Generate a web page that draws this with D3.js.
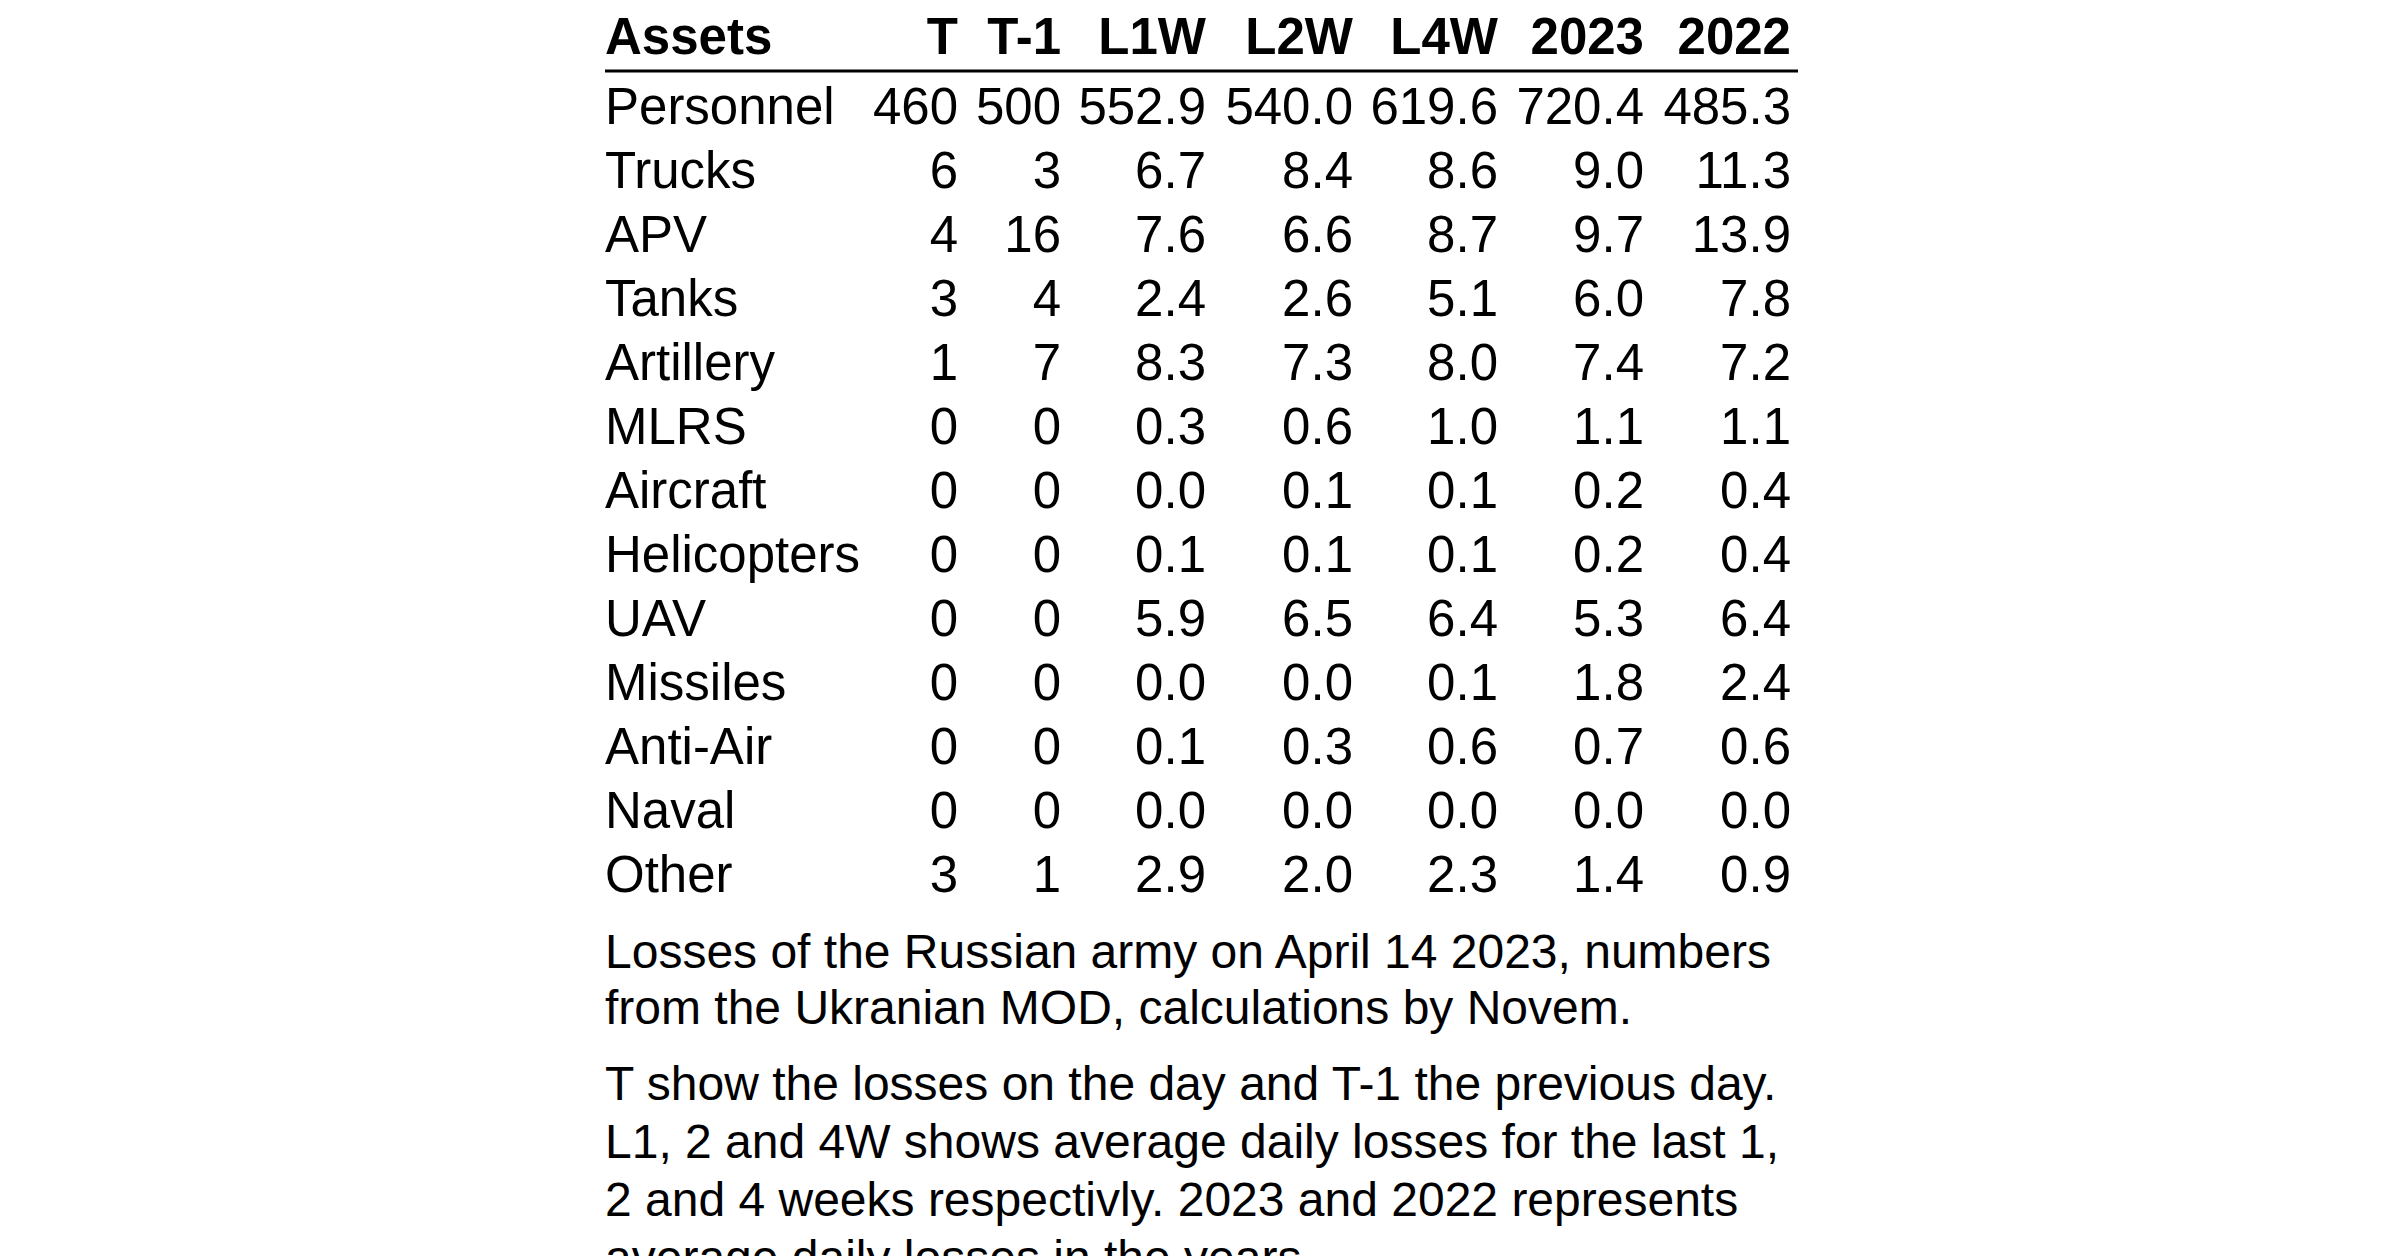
<!DOCTYPE html>
<html>
<head>
<script src="https://cdn.jsdelivr.net/npm/d3@7"></script>
<style>
  body { margin: 0; background: #fff; }
  text { font-family: "Liberation Sans", Arial, sans-serif; fill: #000; }
</style>
</head>
<body>
<svg id="chart" width="2400" height="1256"></svg>
<script>
const columns = ["T", "T-1", "L1W", "L2W", "L4W", "2023", "2022"];
const assets = ["Personnel", "Trucks", "APV", "Tanks", "Artillery", "MLRS", "Aircraft",
  "Helicopters", "UAV", "Missiles", "Anti-Air", "Naval", "Other"];
const valT   = ["460", "6", "4", "3", "1", "0", "0", "0", "0", "0", "0", "0", "3"];
const valT1  = ["500", "3", "16", "4", "7", "0", "0", "0", "0", "0", "0", "0", "1"];
const valL1W = ["552.9", "6.7", "7.6", "2.4", "8.3", "0.3", "0.0", "0.1", "5.9", "0.0", "0.1", "0.0", "2.9"];
const valL2W = ["540.0", "8.4", "6.6", "2.6", "7.3", "0.6", "0.1", "0.1", "6.5", "0.0", "0.3", "0.0", "2.0"];
const valL4W = ["619.6", "8.6", "8.7", "5.1", "8.0", "1.0", "0.1", "0.1", "6.4", "0.1", "0.6", "0.0", "2.3"];
const val2023 = ["720.4", "9.0", "9.7", "6.0", "7.4", "1.1", "0.2", "0.2", "5.3", "1.8", "0.7", "0.0", "1.4"];
const val2022 = ["485.3", "11.3", "13.9", "7.8", "7.2", "1.1", "0.4", "0.4", "6.4", "2.4", "0.6", "0.0", "0.9"];
const caption1 = ["Losses of the Russian army on April 14 2023, numbers",
  "from the Ukranian MOD, calculations by Novem."];
const caption2 = ["T show the losses on the day and T-1 the previous day.",
  "L1, 2 and 4W shows average daily losses for the last 1,",
  "2 and 4 weeks respectivly. 2023 and 2022 represents",
  "average daily losses in the years."];

const values = [valT, valT1, valL1W, valL2W, valL4W, val2023, val2022];
const colRight = [958, 1061, 1206, 1353, 1498, 1644, 1791];
const left = 605, right = 1798, fs = 51, capFs = 48;

const svg = d3.select("#chart");
const y = d3.scalePoint().domain(assets).range([124, 124 + 64 * 12]);

// header
svg.append("text").attr("x", left).attr("y", 54).attr("font-size", fs)
  .attr("font-weight", "bold").text("Assets");
svg.selectAll(".hdr").data(columns).enter().append("text")
  .attr("x", (d, i) => colRight[i]).attr("y", 54).attr("font-size", fs)
  .attr("font-weight", "bold").attr("text-anchor", "end").text(d => d);
svg.append("line").attr("x1", left).attr("x2", right).attr("y1", 71).attr("y2", 71)
  .attr("stroke", "#000").attr("stroke-width", 3);

// rows
svg.selectAll(".row").data(assets).enter().append("text")
  .attr("x", left).attr("y", d => y(d)).attr("font-size", fs).text(d => d);
values.forEach((col, ci) => {
  svg.selectAll(".c" + ci).data(col).enter().append("text")
    .attr("x", colRight[ci]).attr("y", (d, i) => y(assets[i]))
    .attr("font-size", fs).attr("text-anchor", "end").text(d => d);
});

// captions
caption1.forEach((t, i) => svg.append("text").attr("x", left).attr("y", 968 + i * 56)
  .attr("font-size", capFs).text(t));
caption2.forEach((t, i) => svg.append("text").attr("x", left).attr("y", 1100 + i * 58)
  .attr("font-size", capFs).text(t));
</script>
</body>
</html>
